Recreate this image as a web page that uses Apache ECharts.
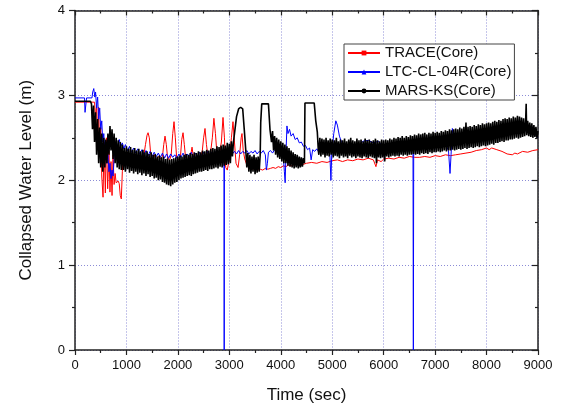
<!DOCTYPE html>
<html>
<head>
<meta charset="utf-8">
<script src="https://cdn.jsdelivr.net/npm/echarts@6/dist/echarts.min.js"></script>
<style>html,body{margin:0;padding:0;background:#fff}#c{width:562px;height:409px}</style>
</head>
<body>
<div id="c"></div>
<script>
var seriesNames = ['TRACE(Core)', 'LTC-CL-04R(Core)', 'MARS-KS(Core)'];
var xTicks = [0, 1000, 2000, 3000, 4000, 5000, 6000, 7000, 8000, 9000];
var yTicks = [0, 1, 2, 3, 4];

var trace = [
[0,2.92],[380,2.92],[400,2.72],[420,2.88],[440,2.5],[460,2.86],[480,2.3],[500,2.62],[520,2.05],[545,1.8],[565,2.45],[590,1.85],[610,2.5],[635,1.9],[660,2.35],[680,1.86],[700,2.22],[720,1.82],[740,2.3],[760,1.95],[780,2.08],[800,1.97],[840,1.99],[860,1.96],[880,1.82],[900,1.78],[920,2.1],[940,2.32],[980,2.24],[1020,2.3],[1060,2.25],[1100,2.31],[1140,2.24],[1180,2.3],[1220,2.26],[1260,2.3],[1300,2.25],[1340,2.3],[1370,2.42],[1400,2.53],[1420,2.56],[1445,2.5],[1470,2.32],[1500,2.26],[1540,2.3],[1580,2.24],[1620,2.28],[1660,2.25],[1700,2.28],[1725,2.42],[1750,2.52],[1775,2.42],[1800,2.26],[1840,2.24],[1870,2.3],[1900,2.55],[1925,2.69],[1950,2.5],[1975,2.27],[2010,2.24],[2050,2.28],[2075,2.48],[2100,2.56],[2125,2.42],[2150,2.26],[2200,2.24],[2250,2.3],[2275,2.39],[2300,2.28],[2350,2.25],[2400,2.3],[2440,2.26],[2475,2.35],[2500,2.5],[2527,2.61],[2555,2.42],[2585,2.28],[2630,2.3],[2670,2.5],[2700,2.73],[2730,2.55],[2760,2.3],[2800,2.27],[2845,2.45],[2877,2.74],[2905,2.5],[2930,2.15],[2960,2.12],[3000,2.25],[3040,2.5],[3071,2.69],[3100,2.45],[3130,2.2],[3170,2.15],[3200,2.3],[3230,2.5],[3246,2.55],[3270,2.35],[3300,2.25],[3340,2.18],[3400,2.15],[3450,2.13],[3500,2.14],[3550,2.12],[3600,2.13],[3650,2.12],[3700,2.14],[3750,2.13],[3800,2.14],[3850,2.15],[3900,2.14],[3950,2.16],[4000,2.15],[4050,2.17],[4100,2.16],[4150,2.18],[4200,2.17],[4300,2.19],[4400,2.18],[4500,2.2],[4600,2.21],[4700,2.2],[4800,2.22],[4900,2.21],[5000,2.23],[5100,2.24],[5200,2.22],[5300,2.24],[5400,2.23],[5500,2.25],[5600,2.24],[5700,2.26],[5800,2.24],[5850,2.16],[5880,2.24],[5950,2.22],[6000,2.25],[6100,2.26],[6200,2.25],[6300,2.27],[6400,2.26],[6500,2.28],[6600,2.27],[6700,2.27],[6800,2.28],[6900,2.27],[7000,2.29],[7100,2.28],[7200,2.3],[7300,2.29],[7400,2.3],[7500,2.31],[7600,2.32],[7700,2.33],[7800,2.35],[7900,2.36],[8000,2.38],[8050,2.36],[8100,2.38],[8200,2.36],[8300,2.34],[8400,2.31],[8500,2.3],[8550,2.32],[8600,2.31],[8700,2.34],[8800,2.33],[8900,2.35],[9000,2.36]
];

var ltc = [
[0,2.97],[185,2.97],[195,2.8],[215,2.8],[225,2.97],[330,2.97],[345,3.04],[365,3.08],[385,2.98],[400,3.04],[420,2.85],[440,2.98],[460,2.72],[480,2.85],[500,2.6],[520,2.7],[540,2.45],[560,2.55],[580,2.3],[600,2.42],[620,2.2],[640,2.3],[660,2.1],[680,2.2],[700,2.02],[720,2.12],[740,2.05],[760,2.25],[780,2.38],[800,2.45],[830,2.4],[860,2.48],[890,2.4],[920,2.44],[950,2.37],[980,2.42],[1020,2.35],[1060,2.4],[1100,2.33],[1140,2.38],[1180,2.32],[1220,2.37],[1260,2.31],[1300,2.36],[1340,2.3],[1380,2.35],[1420,2.29],[1460,2.34],[1500,2.28],[1540,2.33],[1580,2.28],[1620,2.32],[1660,2.27],[1700,2.32],[1740,2.26],[1780,2.31],[1820,2.26],[1860,2.31],[1900,2.27],[1940,2.3],[1980,2.26],[2020,2.31],[2060,2.27],[2100,2.32],[2140,2.27],[2180,2.31],[2220,2.28],[2260,2.33],[2300,2.27],[2340,2.32],[2380,2.28],[2420,2.33],[2460,2.29],[2500,2.33],[2540,2.28],[2580,2.34],[2620,2.29],[2660,2.33],[2700,2.29],[2740,2.34],[2780,2.3],[2820,2.33],[2860,2.29],[2895,2.32],[2900,0],[2905,2.3],[2940,2.33],[2980,2.3],[3020,2.34],[3060,2.31],[3100,2.34],[3140,2.31],[3180,2.35],[3220,2.31],[3260,2.34],[3300,2.32],[3340,2.35],[3380,2.31],[3420,2.34],[3460,2.32],[3500,2.35],[3540,2.31],[3580,2.34],[3620,2.32],[3660,2.35],[3700,2.3],[3720,2.12],[3740,2.2],[3760,2.33],[3800,2.35],[3840,2.32],[3880,2.36],[3920,2.33],[3960,2.37],[4000,2.34],[4040,2.36],[4070,2.1],[4085,1.97],[4100,2.3],[4120,2.64],[4140,2.55],[4170,2.6],[4200,2.52],[4240,2.55],[4280,2.48],[4320,2.5],[4360,2.44],[4400,2.45],[4440,2.4],[4480,2.41],[4520,2.36],[4560,2.38],[4590,2.24],[4620,2.36],[4660,2.34],[4700,2.37],[4740,2.33],[4780,2.36],[4820,2.34],[4860,2.37],[4900,2.35],[4950,2.36],[4975,2.0],[4990,2.3],[5030,2.55],[5070,2.7],[5100,2.65],[5140,2.52],[5180,2.45],[5220,2.42],[5300,2.4],[5400,2.42],[5500,2.4],[5600,2.46],[5700,2.47],[5800,2.44],[5900,2.46],[6000,2.38],[6100,2.4],[6200,2.37],[6300,2.4],[6400,2.38],[6500,2.4],[6570,2.38],[6577,0],[6584,2.38],[6700,2.4],[6800,2.41],[6900,2.39],[7000,2.42],[7100,2.4],[7200,2.43],[7260,2.35],[7290,2.08],[7310,2.3],[7335,2.61],[7360,2.5],[7400,2.44],[7500,2.46],[7600,2.48],[7700,2.5],[7780,2.48],[7810,2.56],[7840,2.5],[7900,2.5],[8000,2.52],[8100,2.53],[8200,2.55],[8300,2.54],[8400,2.56],[8500,2.57],[8600,2.58],[8700,2.62],[8750,2.58],[8800,2.6],[8850,2.56],[8900,2.58],[8950,2.53],[9000,2.5]
];

var mars = [
[0,2.93],[300,2.93],[320,2.9],[340,2.6],[360,2.88],[380,2.45],[400,2.8],[420,2.3],[440,2.72],[460,2.2],[480,2.62],[500,2.15],[520,2.55],[540,2.1],[560,2.5],[580,2.15],[600,2.48],[620,2.2],[640,2.55],[660,2.3],[680,2.64],[700,2.35],[720,2.6],[740,2.25],[760,2.55],[780,2.2],[800,2.5],[820,2.15],[840,2.47],[860,2.13],[880,2.45],[900,2.12],
[920,2.42],[940,2.12],[960,2.38],[980,2.1],[1000,2.4],[1020,2.13],[1040,2.37],[1060,2.09],[1080,2.39],[1100,2.11],[1120,2.36],[1140,2.08],[1160,2.38],[1180,2.1],[1200,2.35],[1220,2.07],[1240,2.37],[1260,2.09],[1280,2.34],[1300,2.06],[1320,2.36],[1340,2.08],[1360,2.33],[1380,2.05],[1400,2.34],[1420,2.07],[1440,2.31],[1460,2.04],[1480,2.33],[1500,2.05],[1520,2.3],[1540,2.02],[1560,2.31],[1580,2.03],[1600,2.28],[1620,2.0],[1640,2.29],[1660,2.01],[1680,2.27],[1700,1.98],[1720,2.28],[1740,1.97],[1760,2.25],[1780,1.95],[1800,2.26],[1820,1.94],[1840,2.24],[1860,1.93],[1880,2.25],[1900,1.95],[1920,2.26],[1940,1.97],[1960,2.27],[1980,1.98],[2000,2.28],[2020,2.0],[2040,2.29],[2060,2.02],[2080,2.28],[2100,2.03],[2120,2.3],[2140,2.04],[2160,2.31],[2180,2.05],[2200,2.3],[2220,2.06],[2240,2.32],[2260,2.05],[2280,2.31],[2300,2.07],[2320,2.33],[2340,2.08],[2360,2.32],[2380,2.09],[2400,2.34],[2420,2.1],[2440,2.33],[2460,2.1],[2480,2.35],[2500,2.11],[2520,2.34],[2540,2.12],[2560,2.36],[2580,2.11],[2600,2.35],[2620,2.13],[2640,2.37],[2660,2.13],[2680,2.38],[2700,2.14],[2720,2.37],[2740,2.15],[2760,2.4],[2780,2.14],[2800,2.39],[2820,2.16],[2840,2.41],[2860,2.15],[2880,2.42],[2900,2.17],[2920,2.41],[2940,2.18],[2960,2.44],[2980,2.19],[3000,2.43],[3020,2.2],[3040,2.46],[3060,2.28],
[3080,2.45],[3100,2.55],[3140,2.75],[3180,2.84],[3220,2.86],[3260,2.84],[3290,2.6],[3320,2.35],
[3340,2.15],[3360,2.32],[3380,2.1],[3400,2.3],[3420,2.08],[3440,2.28],[3460,2.1],[3480,2.3],[3500,2.07],[3520,2.27],[3540,2.09],[3560,2.28],[3580,2.1],[3600,2.3],[3610,2.68],[3630,2.9],[3760,2.9],[3790,2.6],[3820,2.45],
[3840,2.58],[3860,2.35],[3880,2.52],[3900,2.3],[3920,2.5],[3940,2.27],[3960,2.48],[3980,2.25],[4000,2.46],[4020,2.22],[4040,2.44],[4060,2.2],[4080,2.42],[4100,2.2],[4120,2.4],[4140,2.17],[4160,2.38],[4180,2.16],[4200,2.35],[4220,2.15],[4240,2.33],[4260,2.14],[4280,2.31],[4300,2.15],[4320,2.3],[4340,2.14],[4360,2.28],[4380,2.15],[4400,2.27],[4420,2.16],[4440,2.26],[4460,2.2],[4470,2.91],[4650,2.91],[4680,2.7],[4710,2.57],[4730,2.35],
[4740,2.3],[4760,2.5],[4780,2.28],[4800,2.49],[4820,2.3],[4840,2.48],[4860,2.27],[4880,2.5],[4900,2.29],[4920,2.47],[4940,2.28],[4960,2.49],[4980,2.3],[5000,2.48],
[5020,2.27],[5040,2.47],[5060,2.29],[5080,2.5],[5100,2.28],[5120,2.46],[5140,2.26],[5160,2.48],[5180,2.29],[5200,2.47],[5220,2.27],[5240,2.49],[5260,2.28],[5280,2.46],[5300,2.26],[5320,2.48],[5340,2.29],[5360,2.5],[5380,2.27],[5400,2.47],[5420,2.28],[5440,2.46],[5460,2.26],[5480,2.49],[5500,2.28],[5520,2.47],[5540,2.27],[5560,2.48],[5580,2.26],[5600,2.46],[5620,2.28],[5640,2.49],[5660,2.27],[5680,2.47],[5700,2.26],[5720,2.48],[5740,2.28],[5760,2.46],[5780,2.27],[5800,2.47],[5820,2.26],[5840,2.49],[5860,2.2],[5880,2.47],[5900,2.27],[5920,2.46],[5940,2.26],[5960,2.48],[5980,2.27],[6000,2.47],
[6020,2.22],[6040,2.48],[6060,2.28],[6080,2.47],[6100,2.27],[6120,2.49],[6140,2.28],[6160,2.48],[6180,2.29],[6200,2.5],[6220,2.28],[6240,2.49],[6260,2.29],[6280,2.51],[6300,2.28],[6320,2.5],[6340,2.3],[6360,2.52],[6380,2.29],[6400,2.5],[6420,2.3],[6440,2.52],[6460,2.29],[6480,2.51],[6500,2.3],
[6520,2.53],[6540,2.3],[6560,2.52],[6580,2.31],[6600,2.54],[6620,2.3],[6640,2.53],[6660,2.31],[6680,2.55],[6700,2.3],[6720,2.54],[6740,2.32],[6760,2.55],[6780,2.31],[6800,2.56],[6820,2.32],[6840,2.54],[6860,2.31],[6880,2.56],[6900,2.33],[6920,2.55],[6940,2.32],[6960,2.57],[6980,2.33],[7000,2.56],
[7020,2.33],[7040,2.57],[7060,2.34],[7080,2.56],[7100,2.33],[7120,2.58],[7140,2.34],[7160,2.57],[7180,2.35],[7200,2.59],[7220,2.34],[7240,2.58],[7260,2.35],[7280,2.6],[7300,2.35],[7320,2.59],[7340,2.36],[7360,2.6],[7380,2.35],[7400,2.61],[7420,2.36],[7440,2.6],[7460,2.37],[7480,2.62],[7500,2.36],
[7520,2.61],[7540,2.37],[7560,2.63],[7580,2.38],[7600,2.68],[7620,2.37],[7640,2.63],[7660,2.38],[7680,2.64],[7700,2.39],[7720,2.63],[7740,2.38],[7760,2.65],[7780,2.39],[7800,2.64],[7820,2.4],[7840,2.66],[7860,2.39],[7880,2.65],[7900,2.4],[7920,2.67],[7940,2.41],[7960,2.66],[7980,2.4],[8000,2.67],
[8020,2.41],[8040,2.68],[8060,2.42],[8080,2.67],[8100,2.43],[8120,2.69],[8140,2.42],[8160,2.7],[8180,2.44],[8200,2.69],[8220,2.44],[8240,2.71],[8260,2.45],[8280,2.7],[8300,2.46],[8320,2.72],[8340,2.45],[8360,2.73],[8380,2.47],[8400,2.72],[8420,2.47],[8440,2.74],[8460,2.48],[8480,2.73],[8500,2.48],
[8520,2.75],[8540,2.49],[8560,2.74],[8580,2.5],[8600,2.76],[8620,2.49],[8640,2.75],[8660,2.5],[8680,2.74],[8700,2.51],[8720,2.73],[8740,2.52],[8760,2.7],[8770,2.9],[8780,2.53],[8800,2.7],[8820,2.52],[8840,2.68],[8860,2.51],[8880,2.67],[8900,2.5],[8920,2.65],[8940,2.51],[8960,2.63],[8980,2.5],[9000,2.58]
];

var FONT = '"Liberation Sans", Arial, sans-serif';
var frameColor = '#222';
var gridColor = '#8c8cd6';

function plain(v) { return String(v); }

function xAxisBase(pos, primary) {
  return {
    type: 'value', position: pos, min: xTicks[0], max: xTicks[xTicks.length - 1],
    interval: xTicks[1] - xTicks[0],
    axisLine: { show: true, onZero: false, lineStyle: { color: frameColor, width: 1.5 } },
    axisTick: { show: true, inside: !primary, length: 5, lineStyle: { color: frameColor, width: 1.2 } },
    minorTick: { show: true, splitNumber: 2, length: 3, lineStyle: { color: frameColor, width: 1.2 } },
    axisLabel: { show: primary, color: '#111', fontSize: 13, fontFamily: FONT, margin: 9, formatter: plain },
    splitLine: { show: primary, lineStyle: { color: gridColor, type: [1, 2], width: 1 } },
    name: primary ? 'Time (sec)' : '', nameLocation: 'middle', nameGap: 37,
    nameTextStyle: { fontSize: 17, fontFamily: FONT, color: '#111' }
  };
}
function yAxisBase(pos, primary) {
  return {
    type: 'value', position: pos, min: yTicks[0], max: yTicks[yTicks.length - 1],
    interval: yTicks[1] - yTicks[0],
    axisLine: { show: true, onZero: false, lineStyle: { color: frameColor, width: 1.5 } },
    axisTick: { show: true, inside: !primary, length: 6, lineStyle: { color: frameColor, width: 1.2 } },
    minorTick: { show: true, splitNumber: 2, length: 3, lineStyle: { color: frameColor, width: 1.2 } },
    axisLabel: { show: primary, color: '#111', fontSize: 13, fontFamily: FONT, margin: 10, formatter: plain },
    splitLine: { show: primary, lineStyle: { color: gridColor, type: [1, 2], width: 1 } },
    name: primary ? 'Collapsed Water Level (m)' : '', nameLocation: 'middle', nameGap: 40,
    nameTextStyle: { fontSize: 17, fontFamily: FONT, color: '#111' }
  };
}

function lineSeries(name, data, color, symbol, width) {
  return {
    name: name, type: 'line', data: data, xAxisIndex: 0, yAxisIndex: 0,
    showSymbol: false, symbol: symbol, symbolSize: 5, sampling: null,
    lineStyle: { color: color, width: width }, itemStyle: { color: color },
    emphasis: { disabled: true }, animation: false, z: 3
  };
}

var chart = echarts.init(document.getElementById('c'), null, { renderer: 'canvas' });
chart.setOption({
  backgroundColor: '#fff',
  animation: false,
  grid: { left: 75, right: 24, top: 10.5, bottom: 59, containLabel: false },
  xAxis: [xAxisBase('bottom', true), xAxisBase('top', false)],
  yAxis: [yAxisBase('left', true), yAxisBase('right', false)],
  legend: {
    orient: 'vertical', left: 344, top: 44,
    data: seriesNames,
    itemWidth: 32, itemHeight: 6, itemGap: 3,
    padding: [1, 3, 1, 3],
    borderColor: '#444', borderWidth: 1, backgroundColor: '#fff',
    textStyle: { fontSize: 15, fontFamily: FONT, color: '#111', lineHeight: 16 }
  },
  series: [
    lineSeries(seriesNames[0], trace, '#ff0000', 'rect', 1),
    lineSeries(seriesNames[1], ltc, '#0000ff', 'triangle', 1),
    lineSeries(seriesNames[2], mars, '#000000', 'circle', 1.6)
  ]
});
</script>
</body>
</html>
